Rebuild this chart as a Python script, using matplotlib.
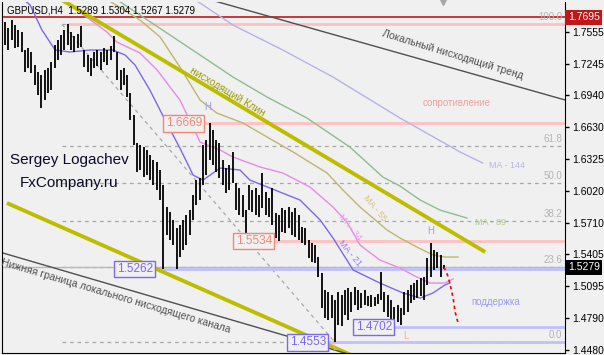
import matplotlib.pyplot as plt

plt.rcParams["font.family"] = ["Liberation Sans", "DejaVu Sans"]

header = "GBPUSD,H4  1.5289 1.5304 1.5267 1.5279"

# H4 bars (high / low), one entry per bar, oldest first
highs = [
    1.7648, 1.7591, 1.7668, 1.7619, 1.7571, 1.7552, 1.7378, 1.7397, 1.7359, 1.7233,
    1.7165, 1.7136, 1.7185, 1.7204, 1.7262, 1.7426, 1.7475, 1.7523, 1.7571, 1.7629,
    1.7552, 1.7513, 1.7533, 1.7610, 1.7378, 1.7330, 1.7301, 1.7359, 1.7378, 1.7359,
    1.7397, 1.7378, 1.7417, 1.7513, 1.7359, 1.7185, 1.7204, 1.7136, 1.6963, 1.6750,
    1.6480, 1.6460, 1.6441, 1.6412, 1.6364, 1.6315, 1.6296, 1.6219, 1.6074, 1.5861,
    1.5813, 1.5736, 1.5659, 1.5687, 1.5736, 1.5784, 1.5832, 1.5977, 1.6122, 1.6142,
    1.6460, 1.6509, 1.6669, 1.6605, 1.6509, 1.6480, 1.6315, 1.6238, 1.6267, 1.6393,
    1.6093, 1.6045, 1.5977, 1.5832, 1.6074, 1.6026, 1.6045, 1.5977, 1.6190, 1.6006,
    1.5948, 1.6045, 1.5803, 1.5784, 1.5852, 1.5832, 1.5861, 1.5813, 1.5852, 1.5784,
    1.5668, 1.5659, 1.5543, 1.5514, 1.5494, 1.5378, 1.5224, 1.5060, 1.5040, 1.5011,
    1.4963, 1.5040, 1.5011, 1.5060, 1.5079, 1.5040, 1.5089, 1.5060, 1.5031, 1.5060,
    1.5002, 1.5011, 1.4992, 1.5021, 1.5233, 1.5040, 1.5011, 1.4963, 1.4895, 1.4915,
    1.4886, 1.5040, 1.5060, 1.5108, 1.5127, 1.5156, 1.5176, 1.5185, 1.5369, 1.5514,
    1.5446, 1.5427, 1.5398, 1.5304,
]
lows = [
    1.7426, 1.7378, 1.7475, 1.7397, 1.7407, 1.7359, 1.7165, 1.7204, 1.7156, 1.7040,
    1.6943, 1.6818, 1.6895, 1.6963, 1.6992, 1.7204, 1.7281, 1.7330, 1.7378, 1.7426,
    1.7378, 1.7359, 1.7397, 1.7407, 1.7214, 1.7165, 1.7127, 1.7204, 1.7223, 1.7185,
    1.7262, 1.7233, 1.7281, 1.7359, 1.7088, 1.6992, 1.7040, 1.6924, 1.6702, 1.6460,
    1.6199, 1.6219, 1.6151, 1.6170, 1.6122, 1.6074, 1.6026, 1.5929, 1.5262, 1.5591,
    1.5543, 1.5494, 1.5265, 1.5378, 1.5446, 1.5494, 1.5591, 1.5736, 1.5881, 1.5929,
    1.6074, 1.6170, 1.6315, 1.6267, 1.6199, 1.6142, 1.6074, 1.5997, 1.6026, 1.6093,
    1.5832, 1.5784, 1.5765, 1.5591, 1.5832, 1.5813, 1.5784, 1.5765, 1.5852, 1.5784,
    1.5765, 1.5687, 1.5562, 1.5534, 1.5620, 1.5610, 1.5659, 1.5591, 1.5572, 1.5543,
    1.5514, 1.5494, 1.5369, 1.5330, 1.5320, 1.5185, 1.4886, 1.4789, 1.4770, 1.4789,
    1.4553, 1.4721, 1.4710, 1.4818, 1.4770, 1.4847, 1.4915, 1.4866, 1.4886, 1.4915,
    1.4905, 1.4895, 1.4905, 1.4924, 1.4963, 1.4847, 1.4799, 1.4770, 1.4702, 1.4750,
    1.4721, 1.4818, 1.4847, 1.4934, 1.4963, 1.4982, 1.5002, 1.4963, 1.5108, 1.5185,
    1.5253, 1.5272, 1.5185, 1.5267,
]
last_close = 1.5279

# moving averages, sampled along the curve (bar index, price)
ma21_x = [1.5, 7.6, 11.2, 15.2, 19.7, 25.8, 32.7, 36.4, 39.4, 43.9, 48.5, 53.0, 57.0, 60.0,
          65.2, 71.2, 74.2, 83.3, 89.4, 95.5, 99.4, 105.5, 113.6, 120.6, 125.8, 129.7, 133.3, 134.8]
ma21_y = [1.7977, 1.7813, 1.7571, 1.7378, 1.7359, 1.7378, 1.7378, 1.7330, 1.7233, 1.6992,
          1.6702, 1.6431, 1.6170, 1.6122, 1.6238, 1.6219, 1.6122, 1.6006, 1.5929, 1.5736,
          1.5562, 1.5253, 1.5127, 1.5031, 1.4982, 1.5031, 1.5108, 1.5127]
ma34_x = [10.6, 20.6, 30.9, 33.9, 40.9, 46.1, 53.0, 56.7, 59.1, 65.2, 69.1, 77.3, 84.2, 92.4,
          99.4, 103.6, 107.6, 113.6, 119.7, 124.2, 128.8, 133.3, 135.8]
ma34_y = [1.7958, 1.7793, 1.7552, 1.7455, 1.7349, 1.7185, 1.6895, 1.6653, 1.6489, 1.6412,
          1.6344, 1.6248, 1.6190, 1.6055, 1.5861, 1.5717, 1.5494, 1.5349, 1.5272, 1.5195,
          1.5127, 1.5127, 1.5166]
ma55_x = [28.8, 40.9, 47.0, 53.0, 59.1, 64.2, 72.1, 79.4, 87.3, 97.6, 102.4, 107.6, 115.8,
          119.7, 124.8, 129.7, 133.3, 137.3]
ma55_y = [1.7909, 1.7668, 1.7504, 1.7214, 1.6895, 1.6769, 1.6673, 1.6538, 1.6393, 1.6190,
          1.6026, 1.5861, 1.5639, 1.5562, 1.5475, 1.5398, 1.5378, 1.5378]
ma89_x = [31.8, 59.1, 69.1, 79.4, 91.5, 104.5, 114.5, 119.7, 125.8, 131.8, 140.0]
ma89_y = [1.7909, 1.7330, 1.7117, 1.6924, 1.6721, 1.6441, 1.6151, 1.6064, 1.5929, 1.5832, 1.5755]
ma144_x = [56.1, 59.1, 69.1, 84.2, 99.4, 119.7, 128.8, 137.9, 144.8]
ma144_y = [1.7890, 1.7832, 1.7619, 1.7378, 1.7117, 1.6721, 1.6557, 1.6393, 1.6286]

# fibonacci retracement
fib_low, fib_high = 1.4553, 1.7625
fib_start, fib_end = 17.3, 100.0
fib_levels = [0.0, 23.6, 38.2, 50.0, 61.8, 100.0]

# trend lines: (x0, y0, x1, y1)
wedge_upper = (17.3, 1.7861, 145.5, 1.5427)
wedge_lower = (0.6, 1.5900, 108.0, 1.4388)
trend_upper = (62.5, 1.7861, 170.0, 1.6893)
trend_lower = (-0.6, 1.5417, 108.0, 1.4404)
forecast_x = [133.0, 133.9, 134.8, 135.8, 136.4, 137.3]
forecast_y = [1.5279, 1.5224, 1.5127, 1.4982, 1.4847, 1.4741]

# horizontal levels: price, start bar
levels_res = [(1.7625, 18.8), (1.6669, 59.7), (1.5534, 80.9)]
levels_sup = [(1.5262, 44.8), (1.4702, 117.3), (1.4553, 97.3)]
top_line = 1.7695

y_ticks = [1.7555, 1.7245, 1.6940, 1.6630, 1.6325, 1.6020, 1.5710, 1.5405, 1.5095, 1.4790, 1.4480]

bg = "#F0F0F0"
pink = "#FFC0C0"
salmon = "#F08878"
lav = "#C0C0FF"
slate = "#7B68EE"

fig = plt.figure(figsize=(6.04, 3.55), dpi=100, facecolor=bg)
ax = fig.add_axes([2 / 604, 2.5 / 355, 563 / 604, 350.5 / 355], facecolor=bg)
xmin, xmax = -0.91, 169.7
ax.set_xlim(xmin, xmax)
ax.set_ylim(1.4456, 1.7842)

# fibonacci
for lvl in fib_levels:
    p = fib_low + (fib_high - fib_low) * lvl / 100
    ax.plot([fib_start, xmax], [p, p], color="#A8A8A8", lw=0.9, ls=(0, (3, 3)))
    ax.text(168.9, p + 0.002, f"{lvl:.1f}", ha="right", va="bottom", fontsize=7, color="#B4B4B4")
ax.plot([fib_start, fib_end], [fib_high, fib_low], color="#A8A8A8", lw=0.9, ls=(0, (3, 3)))

# bid line
ax.axhline(last_close, color="#B8B8B8", lw=1)
ax.axhline(top_line, color="#C01818", lw=1.2)

for p, x0 in levels_res:
    ax.plot([x0, xmax], [p, p], color=pink, lw=2, solid_capstyle="butt")
for p, x0 in levels_sup:
    ax.plot([x0, xmax], [p, p], color=lav, lw=2, solid_capstyle="butt")

# moving averages
ax.plot(ma144_x, ma144_y, color="#B4B4E4", lw=1)
ax.plot(ma89_x, ma89_y, color="#8FBC8F", lw=1)
ax.plot(ma55_x, ma55_y, color="#BDB76B", lw=1)
ax.plot(ma34_x, ma34_y, color="#E88AE8", lw=1)
ax.plot(ma21_x, ma21_y, color=slate, lw=1)

# trend lines
for (x0, y0, x1, y1) in [wedge_upper, wedge_lower]:
    ax.plot([x0, x1], [y0, y1], color="#BDBD00", lw=2.8, solid_capstyle="butt")
for (x0, y0, x1, y1) in [trend_upper, trend_lower]:
    ax.plot([x0, x1], [y0, y1], color="#505050", lw=1)

# bars
idx = list(range(len(highs)))
ax.vlines(idx, lows, highs, color="black", lw=1.3)

ax.plot(forecast_x, forecast_y, color="#FF0000", lw=1.2, ls=(0, (2, 2)))

# level boxes
for p, x0 in levels_res[1:]:
    ax.text(x0, p, f"{p:.4f}", ha="right", va="center", fontsize=8.5, color=salmon,
            bbox=dict(boxstyle="square,pad=0.2", fc=bg, ec=salmon, lw=1))
for p, x0 in levels_sup:
    ax.text(x0, p, f"{p:.4f}", ha="right", va="center", fontsize=8.5, color=slate,
            bbox=dict(boxstyle="square,pad=0.2", fc=bg, ec=slate, lw=1))

# annotations
ax.text(61.5, 1.6827, "H", ha="center", va="center", fontsize=7, color="#9C9CF8")
ax.text(129.1, 1.5630, "H", ha="center", va="center", fontsize=7, color="#9C9CF8")
ax.text(121.5, 1.4615, "L", ha="center", va="center", fontsize=7, color="#F8B090")
ax.text(100.0, 1.4509, "L", ha="center", va="center", fontsize=7, color="#F8B090")
ax.text(137.0, 1.6866, "сопротивление", ha="center", va="center", fontsize=7, color="#F0A0A0")
ax.text(148.8, 1.4944, "поддержка", ha="center", va="center", fontsize=7, color="#9C9CF0")

ax.text(146.7, 1.6267, "MA - 144", ha="left", va="center", fontsize=6.5, color="#B8B8E0")
ax.text(142.4, 1.5716, "MA - 89", ha="left", va="center", fontsize=6.5, color="#B0C890")
ax.text(112.1, 1.5852, "MA - 55", ha="center", va="center", fontsize=6.5, color="#D4C47C",
        rotation=-50, rotation_mode="anchor")
ax.text(104.5, 1.5668, "MA - 34", ha="center", va="center", fontsize=6.5, color="#E8A0E8",
        rotation=-50, rotation_mode="anchor")
ax.text(104.5, 1.5417, "MA - 21", ha="center", va="center", fontsize=6.5, color="#9080F0",
        rotation=-50, rotation_mode="anchor")

ax.text(67.5, 1.6970, "нисходящий Клин", ha="center", va="center", fontsize=7.5, color="#9A9A00",
        rotation=-31, rotation_mode="anchor")
ax.text(135.5, 1.7330, "Локальный нисходящий тренд", ha="center", va="center", fontsize=7.5,
        color="#505050", rotation=-17, rotation_mode="anchor")
ax.text(33.6, 1.5002, "Нижняя граница локального нисходящего канала", ha="center", va="center",
        fontsize=7.5, color="#505050", rotation=-16.5, rotation_mode="anchor")

ax.text(0.119, 0.550, "Sergey Logachev", transform=ax.transAxes, ha="center", va="center",
        fontsize=11, color="#0A0A28")
ax.text(0.119, 0.484, "FxCompany.ru", transform=ax.transAxes, ha="center", va="center",
        fontsize=11, color="#0A0A28")
ax.text(0.009, 0.977, header, transform=ax.transAxes, ha="left", va="center", fontsize=7, color="black")

# chart shift marker
ax.plot([132.7], [1.0], marker="v", ms=5, color="#A8A8A8", transform=ax.get_xaxis_transform(),
        clip_on=False)

# price axis
ax.set_xticks([])
ax.yaxis.tick_right()
ax.set_yticks(y_ticks, [f"{t:.4f}" for t in y_ticks])
ax.tick_params(axis="y", labelsize=7.5, length=3, width=1, pad=2, colors="black")
for side in ["left", "bottom", "right"]:
    ax.spines[side].set_color("black")
ax.spines["top"].set_visible(False)

ytr = ax.get_yaxis_transform()
ax.text(1.005, top_line, f"{top_line:.4f}", transform=ytr, ha="left", va="center", fontsize=7.5,
        color="white", bbox=dict(boxstyle="square,pad=0.25", fc="#C01818", ec="none"), clip_on=False)
ax.text(1.005, last_close, f"{last_close:.4f}", transform=ytr, ha="left", va="center", fontsize=7.5,
        color="white", bbox=dict(boxstyle="square,pad=0.25", fc="black", ec="none"), clip_on=False)

fig.savefig("out.png", dpi=100, facecolor=bg)
